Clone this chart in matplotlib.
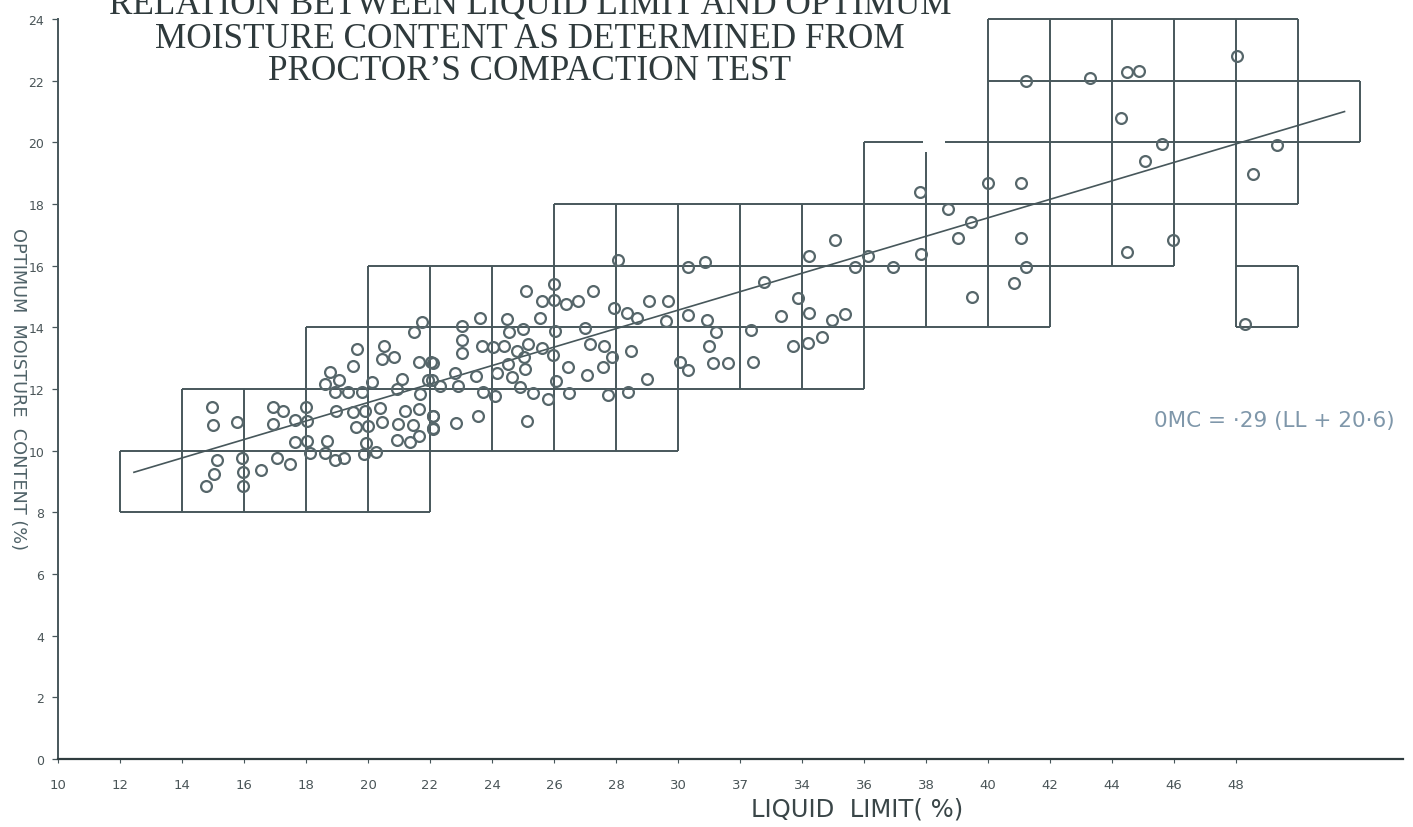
#!/usr/bin/python3
# liquid limit vs optimum moisture content, scan of Proctor test chart
import matplotlib
matplotlib.use('Agg')
import matplotlib.pyplot as plt

# measured points, left part of the cloud first
liquid_limit = [
    21.73, 21.47, 19.64, 20.5, 20.44, 20.84, 19.53, 21.63, 22.03, 18.78, 18.62, 19.05, 20.12, 21.09, 21.95,
    18.94, 19.34, 19.82, 20.95, 21.68, 14.96, 16.95, 17.27, 18.0, 18.96, 19.53, 19.91, 20.39, 21.2, 21.66,
    22.09, 14.99, 15.77, 16.95, 17.65, 18.02, 19.62, 20.01, 20.44, 20.98, 21.44, 22.09, 21.66, 17.65, 18.02,
    18.67, 20.95, 21.36, 19.93, 18.13, 18.62, 18.94, 19.24, 19.88, 20.26, 15.14, 15.94, 17.06, 17.49, 16.54,
    15.03, 15.98, 14.77, 15.98,
    28.05, 30.33, 30.87, 26.01, 25.1, 27.27, 25.6, 26.01, 26.38, 26.76, 27.94, 28.34, 28.67, 29.06, 29.67,
    29.6, 30.31, 30.92, 31.23, 32.35, 23.61, 24.47, 25.55, 24.56, 25.01, 26.03, 27.0, 23.02, 23.02, 23.04,
    23.67, 24.04, 24.39, 24.8, 25.17, 25.6, 25.98, 27.16, 27.61, 28.48, 27.86, 31.01, 25.04, 24.53, 22.09,
    22.81, 23.47, 24.15, 25.06, 26.44, 27.57, 30.06, 30.33, 31.14, 31.62, 32.43, 24.63, 27.05, 26.06, 28.99,
    22.05, 22.32, 22.91, 24.9, 23.7, 24.1, 25.33, 25.82, 26.48, 27.75, 28.4, 23.56, 22.84, 22.09, 22.11, 25.14,
    37.82, 40.01, 41.05, 38.72, 39.45, 39.04, 41.06, 35.06, 34.23, 36.12, 35.71, 36.95, 37.83, 41.22, 40.84,
    32.77, 39.47, 33.86, 33.32, 34.23, 34.98, 35.4, 34.63, 34.2, 33.72,
    41.21, 43.29, 44.47, 44.87, 48.04, 44.29, 45.62, 45.08, 49.31, 48.56, 44.47, 45.98, 48.29,
]
moisture = [
    14.19, 13.84, 13.3, 13.41, 12.98, 13.03, 12.76, 12.89, 12.87, 12.55, 12.17, 12.28, 12.24, 12.33, 12.28,
    11.9, 11.9, 11.92, 12.0, 11.84, 11.41, 11.41, 11.28, 11.41, 11.28, 11.27, 11.3, 11.4, 11.3, 11.36,
    11.14, 10.84, 10.92, 10.87, 10.98, 10.95, 10.76, 10.79, 10.92, 10.87, 10.82, 10.73, 10.49, 10.28, 10.32,
    10.33, 10.35, 10.28, 10.25, 9.92, 9.93, 9.71, 9.76, 9.88, 9.95, 9.71, 9.76, 9.77, 9.56, 9.38,
    9.25, 9.3, 8.87, 8.87,
    16.2, 15.95, 16.13, 15.41, 15.17, 15.17, 14.87, 14.89, 14.76, 14.84, 14.63, 14.47, 14.3, 14.85, 14.84,
    14.22, 14.41, 14.24, 13.86, 13.92, 14.31, 14.28, 14.31, 13.86, 13.95, 13.88, 13.97, 14.03, 13.59, 13.16,
    13.39, 13.36, 13.39, 13.25, 13.45, 13.33, 13.11, 13.46, 13.38, 13.24, 13.03, 13.39, 13.03, 12.82, 12.85,
    12.52, 12.42, 12.52, 12.65, 12.71, 12.71, 12.87, 12.62, 12.85, 12.85, 12.87, 12.38, 12.46, 12.25, 12.33,
    12.28, 12.11, 12.11, 12.06, 11.9, 11.76, 11.88, 11.68, 11.86, 11.82, 11.92, 11.14, 10.89, 11.12, 10.69, 10.97,
    18.4, 18.68, 18.68, 17.84, 17.43, 16.89, 16.89, 16.83, 16.3, 16.3, 15.95, 15.97, 16.38, 15.95, 15.44,
    15.46, 14.97, 14.95, 14.38, 14.47, 14.25, 14.43, 13.7, 13.49, 13.39,
    21.98, 22.08, 22.28, 22.3, 22.8, 20.8, 19.95, 19.39, 19.93, 18.98, 16.44, 16.85, 14.11,
]

# best fit line
fit_x = [12.45, 51.5]
fit_y = [9.3, 21.0]

# grid of the zones: (y, x from, x to) and (x, y from, y to)
grid_y = [8, 10, 12, 14, 14, 16, 16, 18, 20, 20, 22, 24]
grid_y_from = [12, 12, 14, 18, 48, 20, 48, 26, 36, 38.6, 40, 40]
grid_y_to = [22, 30, 36, 42, 50, 46, 50, 50, 37.9, 52, 52, 50]
grid_x = [12, 14, 16, 18, 20, 22, 24, 26, 28, 30, 32, 34, 36, 38, 40, 42, 44, 46, 48, 50, 50, 52]
grid_x_from = [8, 8, 8, 8, 8, 8, 10, 10, 10, 10, 12, 12, 12, 14, 14, 14, 16, 16, 14, 18, 14, 20]
grid_x_to = [10, 12, 12, 14, 16, 16, 16, 18, 18, 18, 18, 18, 20, 19.7, 24, 24, 24, 24, 24, 24, 16, 22]

x_ticks = [10, 12, 14, 16, 18, 20, 22, 24, 26, 28, 30, 32, 34, 36, 38, 40, 42, 44, 46, 48]
x_labels = ['10', '12', '14', '16', '18', '20', '22', '24', '26', '28', '30', '37', '34', '36', '38',
            '40', '42', '44', '46', '48']
y_ticks = [0, 2, 4, 6, 8, 10, 12, 14, 16, 18, 20, 22, 24]

title_lines = ['RELATION BETWEEN LIQUID LIMIT AND OPTIMUM',
               'MOISTURE CONTENT AS DETERMINED FROM',
               'PROCTOR\u2019S COMPACTION TEST']

ink = '#47575b'

fig = plt.figure(figsize=(14.13, 8.28), dpi=100)
W, H = 1413.0, 828.0
# axes box in pixels of the scan: x 10 at 58, y 0 at 760
ax = fig.add_axes([58 / W, (H - 760) / H, 1345 / W, 758 / H])
ax.set_xlim(10, 10 + 1345 / 31.0)
ax.set_ylim(0, 758 / 30.83)

ax.hlines(grid_y, grid_y_from, grid_y_to, color=ink, lw=1.4)
ax.vlines(grid_x, grid_x_from, grid_x_to, color=ink, lw=1.4)
ax.plot(fit_x, fit_y, color=ink, lw=1.2)
ax.plot(liquid_limit, moisture, 'o', ms=7.8, mfc='none', mec='#56666a', mew=1.6, clip_on=False)

for s in ['top', 'right']:
    ax.spines[s].set_visible(False)
ax.spines['left'].set_bounds(0, 24)
ax.spines['left'].set_color(ink)
ax.spines['left'].set_linewidth(1.4)
ax.spines['bottom'].set_color('#2f3c3f')
ax.spines['bottom'].set_linewidth(1.6)

ax.set_xticks(x_ticks)
ax.set_xticklabels(x_labels, fontsize=9.5, color='#4a5558')
ax.set_yticks(y_ticks)
ax.set_yticklabels([str(v) for v in y_ticks], fontsize=9, color='#4a5558')
ax.tick_params(axis='x', length=3, width=0.8, pad=11, color=ink)
ax.tick_params(axis='y', length=4, width=0.9, pad=6, color=ink)

for line, py in zip(title_lines, [5, 39, 72]):
    fig.text(530 / W, 1 - py / H, line, family='Liberation Serif', fontsize=25.3, color='#2f3a3c',
             ha='center', va='center')

fig.text(857 / W, 1 - 810 / H, 'LIQUID  LIMIT( %)', fontsize=17.5, color='#3a4648', ha='center', va='center')
fig.text(18 / W, 1 - 389 / H, 'OPTIMUM  MOISTURE  CONTENT (%)', fontsize=12.8, color='#4f6268', rotation=270,
         ha='center', va='center')
fig.text(1274 / W, 1 - 421 / H, '0MC = \u00b729 (LL + 20\u00b76)', fontsize=15.5, color='#7f97aa',
         ha='center', va='center')

plt.savefig('out.png', dpi=100)
